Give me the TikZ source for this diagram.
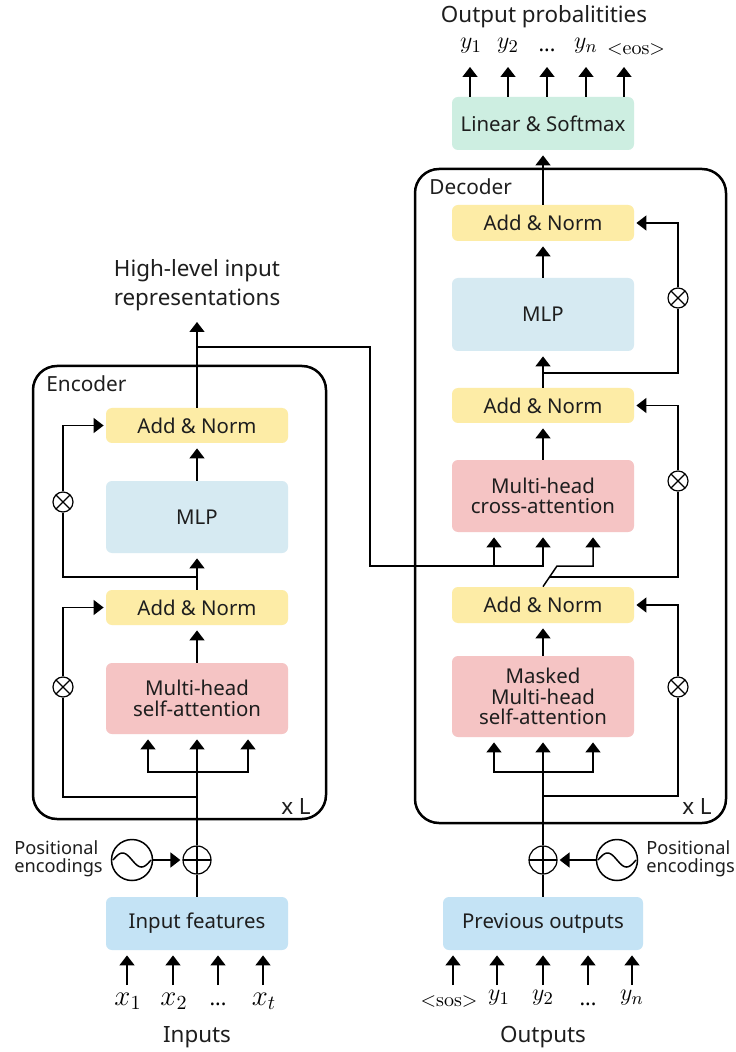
\documentclass[tikz,border=0pt]{standalone}
\usepackage{fontspec}
\newfontfamily\noto{Noto Sans}
\usetikzlibrary{arrows.meta,calc}
\definecolor{anY}{RGB}{253,236,166}
\definecolor{mlpB}{RGB}{214,234,242}
\definecolor{attP}{RGB}{245,196,196}
\definecolor{inB}{RGB}{196,227,245}
\definecolor{smG}{RGB}{205,238,225}
\definecolor{txt}{RGB}{30,30,30}
\tikzset{
  blk/.style={rounded corners=3pt, inner sep=0pt, align=center, text=txt,
    font=\noto\fontsize{10.2}{10.3}\selectfont, minimum width=91pt},
  anbox/.style={blk, fill=anY, minimum height=17.5pt},
  mlpbox/.style={blk, fill=mlpB, minimum height=36pt},
  attbox/.style={blk, fill=attP},
  inbox/.style={blk, fill=inB, minimum height=26.5pt},
  smbox/.style={blk, fill=smG, minimum height=26.5pt},
  conn/.style={line width=0.75pt},
  arr/.style={conn, -{Triangle[width=7.5pt,length=5pt]}, shorten >=2.5pt},
  arrh/.style={conn, -{Triangle[width=7.5pt,length=5pt]}, shorten >=1pt},
  arrfree/.style={conn, -{Triangle[width=7.5pt,length=5pt]}},
  frame/.style={line width=1.25pt, rounded corners=12pt},
  otimes/.style={circle, draw, fill=white, line width=0.6pt, minimum size=10pt, inner sep=0pt,
    path picture={\draw[line width=0.6pt] (path picture bounding box.north west)--(path picture bounding box.south east)
      (path picture bounding box.south west)--(path picture bounding box.north east);}},
  oplus/.style={circle, draw, fill=white, line width=0.6pt, minimum size=14pt, inner sep=0pt,
    path picture={\draw[line width=0.6pt] (path picture bounding box.north)--(path picture bounding box.south)
      (path picture bounding box.west)--(path picture bounding box.east);}},
  sinec/.style={circle, draw, fill=white, line width=0.75pt, minimum size=20.5pt, inner sep=0pt},
  lbl/.style={font=\noto\fontsize{11.2}{14.5}\selectfont, text=txt, inner sep=0pt},
  small/.style={font=\noto\fontsize{9.1}{9.2}\selectfont, text=txt, inner sep=0pt, align=left},
  framelbl/.style={font=\noto\fontsize{10.4}{12}\selectfont, text=txt, inner sep=0pt},
  xm/.style={font=\fontsize{14}{16}\selectfont, inner sep=0pt},
  ym/.style={font=\fontsize{12.5}{14}\selectfont, inner sep=0pt},
  tok/.style={font=\fontsize{10}{12}\selectfont, inner sep=0pt},
  dots/.style={font=\noto\fontsize{10.5}{12}\selectfont, inner sep=0pt},
}
\begin{document}
\begin{tikzpicture}[x=0.5pt,y=-0.5pt]
\useasboundingbox[fill=white] (0,0) rectangle (735,1052);

% ---------------- Encoder nodes ----------------
\node[anbox] (eAN2) at (197,425.5) {Add \& Norm};
\node[mlpbox] (eMLP) at (197,517) {MLP};
\node[anbox] (eAN1) at (197,607.5) {Add \& Norm};
\node[attbox, minimum height=35.5pt] (eSA) at (197,698.5) {Multi-head\\self-attention};
\node[inbox] (eIn) at (197,923.5) {Input features};
\node[oplus] (ePlus) at (197,860) {};
\node[sinec] (eSin) at (132,860) {};
\draw[line width=0.75pt, shift={(eSin.center)}] plot[domain=-19:19,samples=60,smooth] ({\x},{7*sin(\x*180/19)});
\node[small, anchor=west] (ePos) at (14,859) {Positional\\encodings};
\node[otimes] (eOt1) at (63,687) {};
\node[otimes] (eOt2) at (63,502) {};
\node[lbl, align=center] (eHL) at (197,285) {High-level input\\representations};
\node[framelbl, anchor=west] (eLab) at (46,384) {Encoder};
\node[lbl] (eL) at (296,806) {x L};
\node[lbl] (eInputs) at (197,1037) {Inputs};

% ---------------- Decoder nodes ----------------
\node[smbox] (dLS) at (543,123.5) {Linear \& Softmax};
\node[anbox, minimum height=18pt] (dAN3) at (543,223) {Add \& Norm};
\node[mlpbox, minimum height=36.5pt] (dMLP) at (543,314.5) {MLP};
\node[anbox] (dAN2) at (543,405.5) {Add \& Norm};
\node[attbox, minimum height=36pt] (dCA) at (543,496) {Multi-head\\cross-attention};
\node[anbox, minimum height=18pt] (dAN1) at (543,605) {Add \& Norm};
\node[attbox, minimum height=40.5pt] (dMSA) at (543,696.5) {Masked\\Multi-head\\self-attention};
\node[inbox, minimum width=100pt] (dIn) at (543,923.5) {Previous outputs};
\node[oplus] (dPlus) at (543,860) {};
\node[sinec] (dSin) at (617,860) {};
\draw[line width=0.75pt, shift={(dSin.center)}] plot[domain=-19:19,samples=60,smooth] ({\x},{7*sin(\x*180/19)});
\node[small, anchor=west] (dPos) at (646,859) {Positional\\encodings};
\node[otimes] (dOt1) at (678,687) {};
\node[otimes] (dOt2) at (678,481) {};
\node[otimes] (dOt3) at (678,298) {};
\node[framelbl, anchor=west] (dLab) at (429,187) {Decoder};
\node[lbl] (dL) at (697,806) {x L};
\node[lbl] (dOutputs) at (543,1037) {Outputs};
\node[lbl] (dProb) at (544,17) {Output probalitities};

% ---------------- Frames ----------------
\draw[frame] (33,366) rectangle (326,819);
\draw[frame] (415,169) rectangle (726,823);

% ---------------- Encoder connectors ----------------
\coordinate (eS) at (197,772);
\coordinate (eR1) at (197,797);
\coordinate (eR2) at (197,577);
\coordinate (eX) at (197,347);
\coordinate (eOut) at (197,322);
\draw[conn] (eIn) -- (ePlus);
\draw[arrh] (eSin) -- (ePlus);
\draw[arr] (ePlus) -- (eSA);
\draw[arr] (eS) -| ($(eSA.south)+(-49,0)$);
\draw[arr] (eS) -| ($(eSA.south)+(51,0)$);
\draw[conn] (eR1) -| (eOt1.south);
\draw[arrh] (eOt1.north) |- (eAN1.west);
\draw[arr] (eSA) -- (eAN1);
\draw[arr] (eAN1) -- (eMLP);
\draw[conn] (eR2) -| (eOt2.south);
\draw[arrh] (eOt2.north) |- (eAN2.west);
\draw[arr] (eMLP) -- (eAN2);
\draw[arrfree] (eAN2) -- (eOut);

% ---------------- Cross connection ----------------
\coordinate (xT1) at (370,347);
\coordinate (xT2) at (370,566);
\coordinate (dK) at (494,566);
\coordinate (dBend) at (557,566);
\coordinate (dR2) at (549.7,577);
\draw[arr] (eX) -- (xT1) -- (xT2) -| (dCA.south);
\draw[arr] (dK) -- (dK |- dCA.south);
\draw[arr] (dAN1.north) -- (dBend) -| ($(dCA.south)+(50,0)$);
\draw[conn] (dR2) -| (dOt2.south);
\draw[arrh] (dOt2.north) |- (dAN2.east);

% ---------------- Decoder connectors ----------------
\coordinate (dS) at (543,772);
\coordinate (dR1) at (543,796);
\coordinate (dR3) at (543,373);
\draw[conn] (dIn) -- (dPlus);
\draw[arrh] (dSin) -- (dPlus);
\draw[arr] (dPlus) -- (dMSA);
\draw[arr] (dS) -| ($(dMSA.south)+(-49,0)$);
\draw[arr] (dS) -| ($(dMSA.south)+(50,0)$);
\draw[conn] (dR1) -| (dOt1.south);
\draw[arrh] (dOt1.north) |- (dAN1.east);
\draw[arr] (dMSA) -- (dAN1);
\draw[arr] (dCA) -- (dAN2);
\draw[arr] (dAN2) -- (dMLP);
\draw[conn] (dR3) -| (dOt3.south);
\draw[arrh] (dOt3.north) |- (dAN3.east);
\draw[arr] (dMLP) -- (dAN3);
\draw[arr] (dAN3) -- (dLS);

% ---------------- Output tokens ----------------
\foreach \i/\x in {1/470,2/508,3/547,4/586,5/624}{
  \coordinate (o\i) at (\x,67);
  \draw[arrfree] (dLS.north -| o\i) -- (o\i);
}
\node[ym] (oy1) at (471,46) {$y_1$};
\node[ym] (oy2) at (508,46) {$y_2$};
\node[dots] (oy3) at (547,50) {...};
\node[ym] (oy4) at (586,46) {$y_n$};
\node[tok] (oy5) at (636,50) {<eos>};

% ---------------- Input tokens ----------------
\foreach \i/\x in {1/127,2/173,3/218,4/263}{
  \coordinate (i\i) at (\x,985);
  \draw[arr] (i\i) -- (i\i |- eIn.south);
}
\node[xm] (ix1) at (128,1001) {$x_1$};
\node[xm] (ix2) at (174,1001) {$x_2$};
\node[dots] (ix3) at (218,1004) {...};
\node[xm] (ix4) at (264,1001) {$x_t$};

\foreach \i/\x in {1/453,2/497,3/543,4/588,5/632}{
  \coordinate (p\i) at (\x,985);
  \draw[arr] (p\i) -- (p\i |- dIn.south);
}
\node[tok] (py1) at (449,1001) {<sos>};
\node[ym] (py2) at (499,998) {$y_1$};
\node[ym] (py3) at (543,998) {$y_2$};
\node[dots] (py4) at (588,1004) {...};
\node[ym] (py5) at (632,998) {$y_n$};
\end{tikzpicture}
\end{document}
